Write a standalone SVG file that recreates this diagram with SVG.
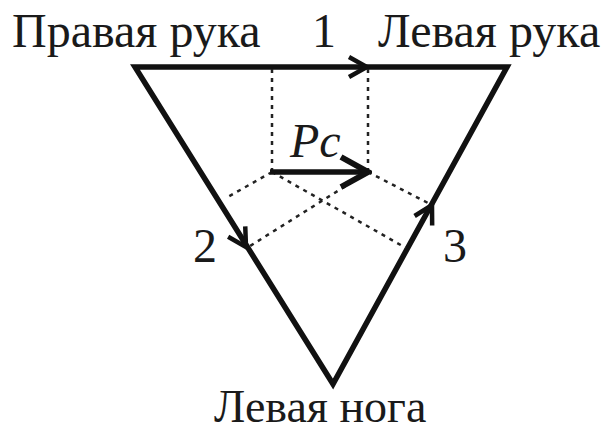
<svg xmlns="http://www.w3.org/2000/svg" width="604" height="423" viewBox="0 0 604 423">
  <style>
    .lbl { font-family: "Liberation Serif", "Times New Roman", serif; font-size: 48px; fill: #1a1a1a; }
    .it { font-style: italic; }
    .edge { fill: none; stroke: #111; stroke-width: 5.5; stroke-linejoin: miter; }
    .dot { fill: none; stroke: #222; stroke-width: 2.5; stroke-dasharray: 4 5; }
    .vec { fill: none; stroke: #111; stroke-width: 5.5; }
  </style>
  <defs>
    <marker id="ah" markerUnits="userSpaceOnUse" viewBox="-22 -13 26 26" refX="0" refY="0" markerWidth="26" markerHeight="26" orient="auto">
      <path d="M-18,-10 L0,0 L-18,10" fill="none" stroke="#111" stroke-width="4.5"/>
    </marker>
    <marker id="ahBig" markerUnits="userSpaceOnUse" viewBox="-32 -18 36 36" refX="0" refY="0" markerWidth="36" markerHeight="36" orient="auto">
      <path d="M-27,-15 L0,0 L-27,15" fill="none" stroke="#111" stroke-width="6"/>
    </marker>
  </defs>

  <g id="triangle">
    <path class="edge" d="M135,67 L507,67 L333,384 Z"/>
  </g>

  <g id="connectors">
    <path d="M300,67 L367,67" fill="none" stroke="none" marker-end="url(#ah)"/>
    <path d="M220,204 L246,247" fill="none" stroke="none" marker-end="url(#ah)"/>
    <path d="M408,249 L432,205" fill="none" stroke="none" marker-end="url(#ah)"/>
    <path class="dot" d="M272,69 L272,172"/>
    <path class="dot" d="M368,69 L368,172"/>
    <path class="dot" d="M272,172 L226,198"/>
    <path class="dot" d="M272,172 L406,248"/>
    <path class="dot" d="M368,172 L250,246"/>
    <path class="dot" d="M368,172 L428,203"/>
    <path class="vec" d="M270,172 L368,172" marker-end="url(#ahBig)"/>
  </g>

  <g id="labels">
    <text class="lbl" x="12" y="47">Правая рука</text>
    <text class="lbl" x="312" y="47">1</text>
    <text class="lbl" x="378" y="47">Левая рука</text>
    <text class="lbl it" x="290" y="157">Pc</text>
    <text class="lbl" x="193" y="262">2</text>
    <text class="lbl" x="443" y="262">3</text>
    <text class="lbl" x="214" y="422" style="font-size:46px">Левая нога</text>
  </g>
</svg>
